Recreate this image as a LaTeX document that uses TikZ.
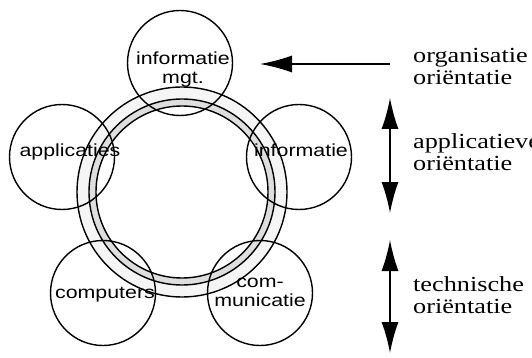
\documentclass[tikz,border=0pt]{standalone}
\usepackage{fontspec}
\usetikzlibrary{arrows.meta}
\newfontfamily\sanslab[FakeStretch=1.22]{Liberation Sans}
\newfontfamily\seriflab[FakeStretch=1.22]{Liberation Serif}
\definecolor{ringlight}{gray}{0.96}
\definecolor{ringdark}{gray}{0.87}
\tikzset{
  areacircle/.style={circle, draw=black, line width=1.4pt, minimum size=105pt, inner sep=0pt},
  arealabel/.style={font=\sanslab\fontsize{17.5}{19}\selectfont, align=center, inner sep=0pt, anchor=base},
  sidelabel/.style={font=\seriflab\fontsize{21.5}{22}\selectfont, align=left, inner sep=0pt, anchor=base west},
  ringline/.style={line width=1.4pt},
  orient/.style={line width=1.4pt, -{Latex[length=32pt,width=17pt]}},
  orientboth/.style={line width=1.4pt, {Latex[length=31pt,width=17pt]}-{Latex[length=31pt,width=17pt]}}
}
\begin{document}
\begin{tikzpicture}[x=1pt,y=-1pt]
\useasboundingbox (0,0) rectangle (532,358);
\clip (0,0) rectangle (532,358);
% central ring
\coordinate (ringc) at (182,192);
\fill[ringlight, even odd rule] (ringc) circle[radius=105] (ringc) circle[radius=93];
\fill[ringdark, even odd rule] (ringc) circle[radius=93] (ringc) circle[radius=86];
\draw[ringline] (ringc) circle[radius=105];
\draw[ringline] (ringc) circle[radius=93];
\draw[ringline] (ringc) circle[radius=86];
% area circles
\node[areacircle] (im) at (180,63) {};
\node[areacircle] (app) at (62,157) {};
\node[areacircle] (inf) at (299,157) {};
\node[areacircle] (comp) at (103,293) {};
\node[areacircle] (comm) at (260,293) {};
% labels (base anchor = baseline of last line)
\node[arealabel] (imt) at (183,84) {informatie\\mgt.};
\node[arealabel] (appt) at (70,157) {applicaties};
\node[arealabel] (inft) at (301,157) {informatie};
\node[arealabel] (compt) at (105,298) {computers};
\node[arealabel] (commt) at (260,306) {com-\\municatie};
% side texts
\node[sidelabel] (org) at (413,85) {organisatie\\oriëntatie};
\node[sidelabel] (appl) at (413,171) {applicatieve\\oriëntatie};
\node[sidelabel] (tech) at (413,313) {technische\\oriëntatie};
% arrows
\coordinate (h1) at (390,64);
\coordinate (h2) at (260,64);
\draw[orient] (h1) -- (h2);
\coordinate (a1) at (390,98);
\coordinate (a2) at (390,213);
\draw[orientboth] (a1) -- (a2);
\coordinate (b1) at (390,240);
\coordinate (b2) at (390,353);
\draw[orientboth] (b1) -- (b2);
\end{tikzpicture}
\end{document}
